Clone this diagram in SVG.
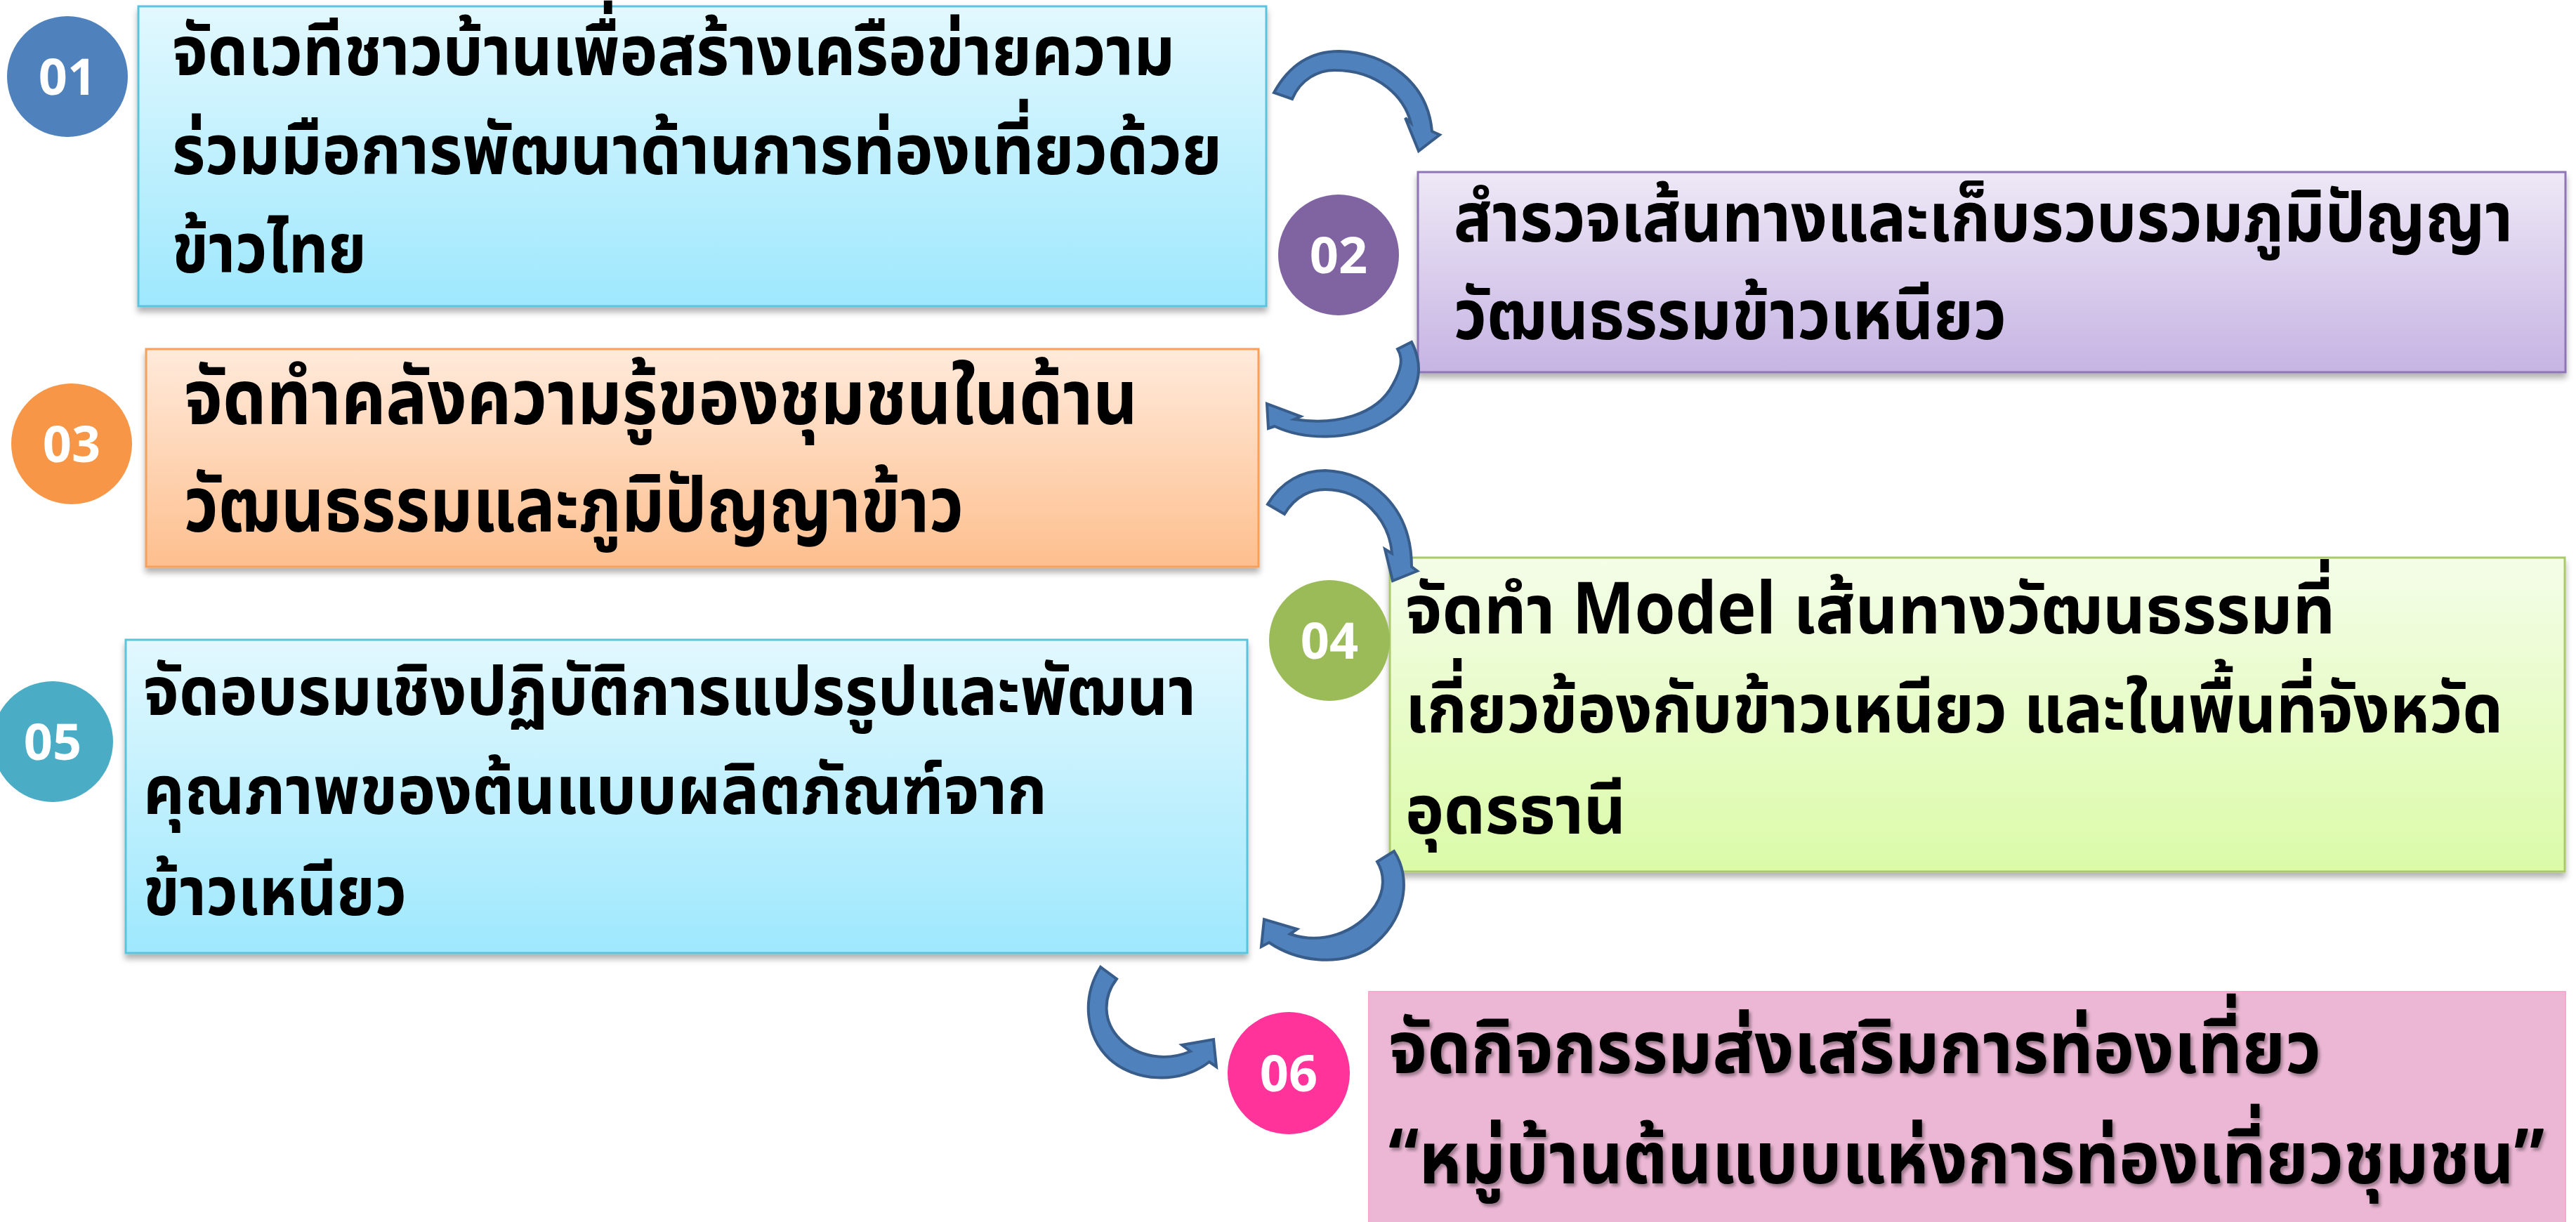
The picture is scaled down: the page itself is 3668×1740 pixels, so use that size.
<svg xmlns="http://www.w3.org/2000/svg" width="3668" height="1740" viewBox="0 0 3668 1740">
<defs>
<linearGradient id="gCyan" x1="0" y1="0" x2="0" y2="1"><stop offset="0" stop-color="#E2F8FE"/><stop offset="1" stop-color="#9EE8FD"/></linearGradient>
<linearGradient id="gPurple" x1="0" y1="0" x2="0" y2="1"><stop offset="0" stop-color="#EEE8F6"/><stop offset="1" stop-color="#C6B4E3"/></linearGradient>
<linearGradient id="gOrange" x1="0" y1="0" x2="0" y2="1"><stop offset="0" stop-color="#FFEADB"/><stop offset="1" stop-color="#FDBF8E"/></linearGradient>
<linearGradient id="gGreen" x1="0" y1="0" x2="0" y2="1"><stop offset="0" stop-color="#F4FDE8"/><stop offset="1" stop-color="#DBFBA8"/></linearGradient>
<filter id="shadow" x="-5%" y="-5%" width="110%" height="120%"><feDropShadow dx="0" dy="7" stdDeviation="4" flood-color="#000" flood-opacity="0.3"/></filter>
<filter id="tshadow" x="-5%" y="-20%" width="110%" height="140%"><feDropShadow dx="3" dy="4" stdDeviation="2" flood-color="#000" flood-opacity="0.35"/></filter>
<style>
.box{stroke-width:3}
.t{font-family:"Noto Sans Thai UI","Noto Sans Thai","Leelawadee UI","Noto Sans",sans-serif;font-weight:bold;fill:#000}
.n{font-family:"Open Sans","Noto Sans",sans-serif;font-weight:bold;fill:#fff;font-size:72px;text-anchor:middle}
.arrow{fill:#4F81BD;stroke:#385D8A;stroke-width:4;stroke-linejoin:miter}
</style>
</defs>
<rect width="3668" height="1740" fill="#fff"/>

<g id="node1">
<rect class="box" x="197" y="9" width="1606" height="427" fill="url(#gCyan)" stroke="#5BC3DC" filter="url(#shadow)"/>
<circle cx="96" cy="109" r="86" fill="#4F81BD"/>
<text class="n" x="96" y="135">01</text>
<text class="t" font-size="104" x="245" y="107" textLength="1428" lengthAdjust="spacingAndGlyphs">จัดเวทีชาวบ้านเพื่อสร้างเครือข่ายความ</text>
<text class="t" font-size="104" x="245" y="248" textLength="1495" lengthAdjust="spacingAndGlyphs">ร่วมมือการพัฒนาด้านการท่องเที่ยวด้วย</text>
<text class="t" font-size="104" x="245" y="388" textLength="277" lengthAdjust="spacingAndGlyphs">ข้าวไทย</text>
</g>

<g id="node2">
<rect class="box" x="2019" y="245" width="1634" height="285" fill="url(#gPurple)" stroke="#8E74B5" filter="url(#shadow)"/>
<circle cx="1906" cy="363" r="86" fill="#8064A2"/>
<text class="n" x="1906" y="389">02</text>
<text class="t" font-size="104" x="2070" y="344" textLength="1508" lengthAdjust="spacingAndGlyphs">สำรวจเส้นทางและเก็บรวบรวมภูมิปัญญา</text>
<text class="t" font-size="104" x="2070" y="483" textLength="787" lengthAdjust="spacingAndGlyphs">วัฒนธรรมข้าวเหนียว</text>
</g>

<g id="node3">
<rect class="box" x="208" y="497" width="1584" height="310" fill="url(#gOrange)" stroke="#F7A05A" filter="url(#shadow)"/>
<circle cx="102" cy="632" r="86" fill="#F79646"/>
<text class="n" x="102" y="658">03</text>
<text class="t" font-size="114" x="262" y="604" textLength="1358" lengthAdjust="spacingAndGlyphs">จัดทำคลังความรู้ของชุมชนในด้าน</text>
<text class="t" font-size="114" x="262" y="757" textLength="1110" lengthAdjust="spacingAndGlyphs">วัฒนธรรมและภูมิปัญญาข้าว</text>
</g>

<g id="node4">
<rect class="box" x="1979" y="794" width="1673" height="447" fill="url(#gGreen)" stroke="#A9C96A" filter="url(#shadow)"/>
<circle cx="1893" cy="912" r="86" fill="#9BBB59"/>
<text class="n" x="1893" y="938">04</text>
<text class="t" font-size="102" x="2001" y="902" textLength="1324" lengthAdjust="spacingAndGlyphs">จัดทำ Model เส้นทางวัฒนธรรมที่</text>
<text class="t" font-size="102" x="2001" y="1043" textLength="1563" lengthAdjust="spacingAndGlyphs">เกี่ยวข้องกับข้าวเหนียว และในพื้นที่จังหวัด</text>
<text class="t" font-size="102" x="2001" y="1187" textLength="314" lengthAdjust="spacingAndGlyphs">อุดรธานี</text>
</g>

<g id="node5">
<rect class="box" x="179" y="911" width="1597" height="446" fill="url(#gCyan)" stroke="#5BC3DC" filter="url(#shadow)"/>
<circle cx="75" cy="1056" r="86" fill="#4BACC6"/>
<text class="n" x="75" y="1082">05</text>
<text class="t" font-size="102" x="204" y="1018" textLength="1499" lengthAdjust="spacingAndGlyphs">จัดอบรมเชิงปฏิบัติการแปรรูปและพัฒนา</text>
<text class="t" font-size="102" x="204" y="1159" textLength="1287" lengthAdjust="spacingAndGlyphs">คุณภาพของต้นแบบผลิตภัณฑ์จาก</text>
<text class="t" font-size="102" x="204" y="1303" textLength="375" lengthAdjust="spacingAndGlyphs">ข้าวเหนียว</text>
</g>

<g id="node6">
<rect x="1949" y="1412" width="1704" height="330" fill="#EBB7D4" stroke="#F4A9CE" stroke-width="2"/>
<circle cx="1835" cy="1528" r="87" fill="#FF3399"/>
<text class="n" x="1835" y="1554">06</text>
<g filter="url(#tshadow)">
<text class="t" font-size="110" x="1977" y="1528" textLength="1328" lengthAdjust="spacingAndGlyphs">จัดกิจกรรมส่งเสริมการท่องเที่ยว</text>
<text class="t" font-size="110" x="1977" y="1685" textLength="1646" lengthAdjust="spacingAndGlyphs">“หมู่บ้านต้นแบบแห่งการท่องเที่ยวชุมชน”</text>
</g>
</g>

<g id="connectors">
<path class="arrow" d="M1814,132 C1838,88 1872,73 1907,73 C1975,75 2033,118 2039,187 L2050,192 L2020,215 L2001,168 L2009,175 C2000,140 1965,100 1900,100 C1878,100 1852,112 1840,141 Z"/>
<path class="arrow" d="M2010,487 C2032,530 2018,578 1960,606 C1920,625 1860,628 1815,607 L1806,610 L1804,575 L1852,593 L1843,597 C1900,606 1960,592 1983,548 C1996,525 1998,510 1990,497 Z"/>
<path class="arrow" d="M1805,718 C1825,685 1855,670 1887,670 C1950,672 2010,720 2010,807 L2018,813 L1983,827 L1972,782 L1982,788 C1978,740 1940,697 1887,697 C1868,697 1845,705 1829,732 Z"/>
<path class="arrow" d="M1985,1212 C2010,1250 2003,1310 1950,1350 C1905,1378 1845,1368 1807,1342 L1796,1348 L1800,1309 L1847,1323 L1837,1330 C1880,1345 1930,1330 1958,1290 C1972,1268 1972,1245 1961,1227 Z"/>
<path class="arrow" d="M1567,1377 C1540,1420 1545,1475 1580,1508 C1615,1540 1680,1545 1722,1512 L1732,1519 L1728,1480 L1683,1488 L1695,1497 C1660,1512 1620,1505 1595,1480 C1570,1455 1570,1420 1590,1394 Z"/>
</g>
</svg>
